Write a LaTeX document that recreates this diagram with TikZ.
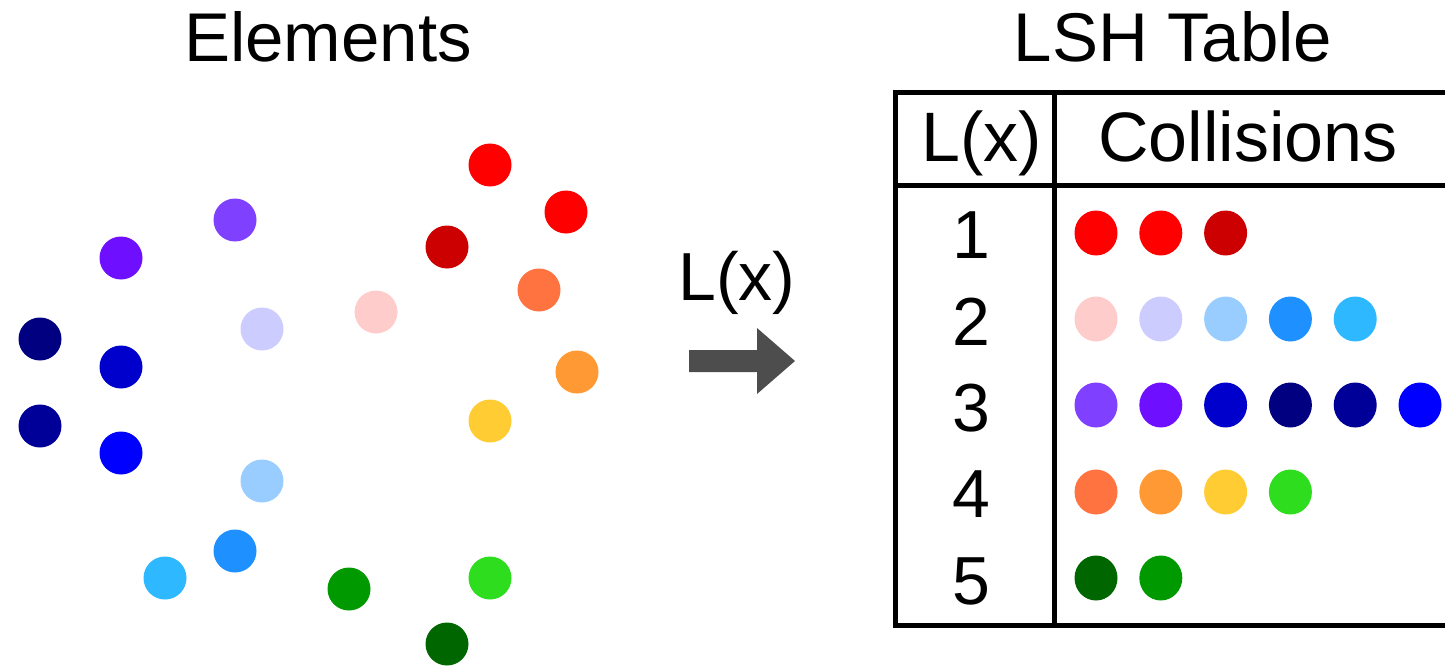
\documentclass[tikz,border=0pt]{standalone}
\usepackage{fontspec}
\setmainfont{Liberation Sans}
\usetikzlibrary{shapes.geometric}
\definecolor{cPurple}{HTML}{8040FF}
\definecolor{cViolet}{HTML}{6E0FFF}
\definecolor{cNavy}{HTML}{000080}
\definecolor{cMedBlue}{HTML}{0000CC}
\definecolor{cDarkBlue}{HTML}{000099}
\definecolor{cBlue}{HTML}{0000FF}
\definecolor{cLavender}{HTML}{CCCCFF}
\definecolor{cLightBlue}{HTML}{99CCFF}
\definecolor{cRed}{HTML}{FF0000}
\definecolor{cDarkRed}{HTML}{CC0000}
\definecolor{cCoral}{HTML}{FF7340}
\definecolor{cPink}{HTML}{FFCCCC}
\definecolor{cOrange}{HTML}{FF9933}
\definecolor{cYellow}{HTML}{FFCC33}
\definecolor{cDodger}{HTML}{1E90FF}
\definecolor{cSky}{HTML}{2DB8FF}
\definecolor{cGreen}{HTML}{009900}
\definecolor{cLime}{HTML}{2DDD1E}
\definecolor{cDarkGreen}{HTML}{006600}
\definecolor{arrowgray}{HTML}{4D4D4D}
\begin{document}
\begin{tikzpicture}[x=1pt,y=-1pt,
  dot/.style={circle,inner sep=0pt,minimum size=43pt,fill=#1},
  tdot/.style={ellipse,inner sep=0pt,minimum width=43pt,minimum height=45pt,fill=#1},
  bigtext/.style={font=\fontsize{69}{69}\selectfont,anchor=base,inner sep=0pt},
  rule/.style={line width=5pt}]
\useasboundingbox (0,0) rectangle (1445,666);
\clip (0,0) rectangle (1445,666);

% titles
\node[bigtext] (elemtitle) at (328,62) {Elements};
\node[bigtext] (lshtitle) at (1173,62) {LSH Table};

% scattered elements
\node[dot=cPurple]    (e1)  at (235,220) {};
\node[dot=cViolet]    (e2)  at (121,258) {};
\node[dot=cNavy]      (e3)  at (40,339) {};
\node[dot=cMedBlue]   (e4)  at (121,367) {};
\node[dot=cDarkBlue]  (e5)  at (40,426) {};
\node[dot=cBlue]      (e6)  at (121,453) {};
\node[dot=cLavender]  (e7)  at (262,329) {};
\node[dot=cLightBlue] (e8)  at (262,481) {};
\node[dot=cRed]       (e9)  at (490,165) {};
\node[dot=cRed]       (e10) at (566,212) {};
\node[dot=cDarkRed]   (e11) at (447,247) {};
\node[dot=cCoral]     (e12) at (539,290) {};
\node[dot=cPink]      (e13) at (376,312) {};
\node[dot=cOrange]    (e14) at (577,372) {};
\node[dot=cYellow]    (e15) at (490,421) {};
\node[dot=cDodger]    (e16) at (235,551) {};
\node[dot=cSky]       (e17) at (165,578) {};
\node[dot=cGreen]     (e18) at (349,589) {};
\node[dot=cLime]      (e19) at (490,578) {};
\node[dot=cDarkGreen] (e20) at (447,644) {};

% hashing arrow
\node[bigtext,font=\fontsize{68}{68}\selectfont] (hashlabel) at (737,300) {L(x)};
\coordinate (arrowstart) at (689,361);
\fill[arrowgray] (arrowstart) ++(0,-11) -- ++(68,0) -- ++(0,-22) -- ++(38,33)
  -- ++(-38,33) -- ++(0,-22) -- ++(-68,0) -- cycle;

% table frame
\draw[rule] (895,93) -- (1460,93);
\draw[rule] (895,185) -- (1460,185);
\draw[rule] (895,625) -- (1460,625);
\draw[rule] (895,90.5) -- (895,627.5);
\draw[rule] (1054,93) -- (1054,625);

% header
\node[bigtext,font=\fontsize{70}{70}\selectfont] (hkey) at (982,161) {L(x)};
\node[bigtext,font=\fontsize{70}{70}\selectfont] (hcol) at (1248,161) {Collisions};

% bucket numbers
\foreach \i/\yb in {1/258,2/345,3/431,4/517,5/604}
  \node[bigtext,font=\fontsize{68}{68}\selectfont] (k\i) at (971,\yb) {\i};

% bucket contents
\foreach \c [count=\j] in {cRed,cRed,cDarkRed}
  \node[tdot=\c] (r1c\j) at ({1096+64.8*(\j-1)},233) {};
\foreach \c [count=\j] in {cPink,cLavender,cLightBlue,cDodger,cSky}
  \node[tdot=\c] (r2c\j) at ({1096+64.8*(\j-1)},319) {};
\foreach \c [count=\j] in {cPurple,cViolet,cMedBlue,cNavy,cDarkBlue,cBlue}
  \node[tdot=\c] (r3c\j) at ({1096+64.8*(\j-1)},405) {};
\foreach \c [count=\j] in {cCoral,cOrange,cYellow,cLime}
  \node[tdot=\c] (r4c\j) at ({1096+64.8*(\j-1)},492) {};
\foreach \c [count=\j] in {cDarkGreen,cGreen}
  \node[tdot=\c] (r5c\j) at ({1096+64.8*(\j-1)},578) {};
\end{tikzpicture}
\end{document}
